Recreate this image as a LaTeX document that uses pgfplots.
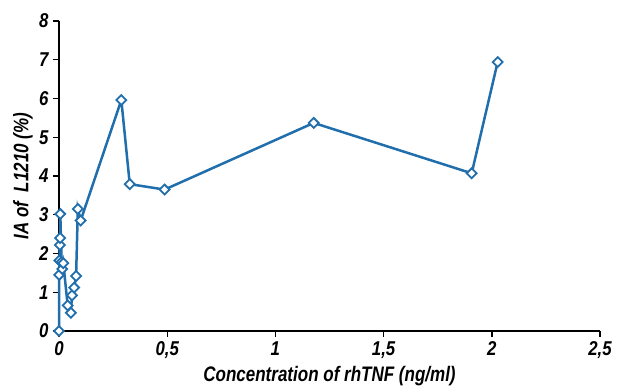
\documentclass[border=0pt]{standalone}
\usepackage{fontspec}
\setmainfont{Liberation Sans}[FakeStretch=0.84]
\newfontfamily\labfont{Liberation Sans}[FakeStretch=0.81]
\usepackage{pgfplots}
\pgfplotsset{compat=1.18}
\definecolor{lc}{RGB}{32,110,172}
\begin{document}
\begin{tikzpicture}
\begin{axis}[
  scale only axis, width=541pt, height=310pt,
  xmin=0, xmax=2.5, ymin=0, ymax=8,
  axis x line=bottom, axis y line=left,
  axis line style={line width=1.4pt, -},
  xtick={0,0.5,1,1.5,2,2.5}, ytick={0,1,...,8},
  tick align=outside, major tick length=6pt,
  tick style={line width=1.4pt, black},
  /pgf/number format/assume math mode=true,
  /pgf/number format/use comma,
  ticklabel style={font=\fontsize{20}{20}\selectfont\bfseries\itshape},
  xticklabel style={yshift=-1pt},
  yticklabel style={xshift=-1pt},
  label style={font=\labfont\fontsize{21}{21}\selectfont\bfseries\itshape},
  xlabel={Concentration of rhTNF (ng/ml)},
  ylabel={IA of \ L1210 (\%)},
  xlabel style={at={(axis description cs:0.5,-0.145)}, anchor=center},
  ylabel style={at={(axis description cs:-0.0665,0.5)}, anchor=center},
  clip=false,
]
\addplot[color=lc, line width=2.5pt, mark=square*, mark size=3.5pt,
  mark options={fill=white, draw=lc, line width=1.8pt, rotate=45}] coordinates {
(0,0)
(0.001,1.45)
(0.002,1.82)
(0.004,2.22)
(0.005,2.4)
(0.006,3.02)
(0.012,1.78)
(0.015,1.6)
(0.02,1.75)
(0.04,0.66)
(0.055,0.47)
(0.06,0.92)
(0.07,1.12)
(0.079,1.42)
(0.087,3.15)
(0.1,2.85)
(0.288,5.96)
(0.327,3.79)
(0.488,3.65)
(1.177,5.37)
(1.907,4.07)
(2.027,6.94)
};
\coordinate (bl) at (rel axis cs:0,0);
\coordinate (tr) at (rel axis cs:1,1);
\end{axis}
\pgfresetboundingbox
\path ([shift={(-59pt,-57pt)}]bl) rectangle ([shift={(17pt,21pt)}]tr);
\end{tikzpicture}
\end{document}
